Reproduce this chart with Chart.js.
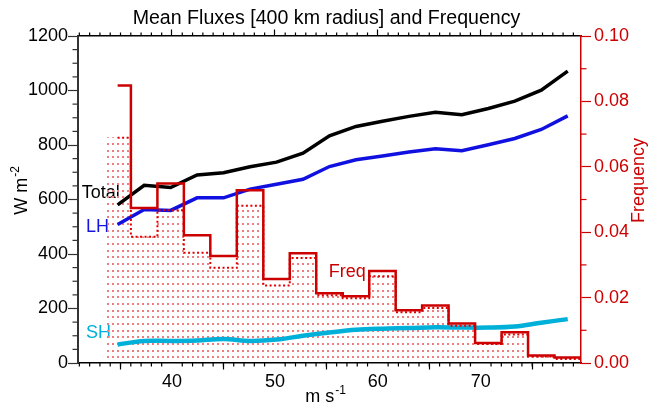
<!DOCTYPE html>
<html>
<head>
<meta charset="utf-8">
<script src="https://cdn.jsdelivr.net/npm/chart.js@4.4.0/dist/chart.umd.min.js"></script>
<style>
  html, body { margin: 0; padding: 0; background: #fff; }
</style>
</head>
<body>
<canvas id="myChart" width="653" height="404"></canvas>
<script>
// wind speed bins (m/s), 5 kt wide; the last one sits past the axis edge
const windSpeed = [34.72, 37.30, 39.87, 42.44, 45.01, 47.59, 50.16, 52.73, 55.30, 57.88, 60.45, 63.02, 65.59, 68.16, 70.74, 73.31, 75.88, 78.45, 81.02];
// mean fluxes, W m-2
const totalFlux = [580, 652, 644, 690, 698, 720, 737, 770, 834, 868, 887, 905, 920, 911, 934, 961, 1001, 1071];
const lhFlux = [508, 563, 560, 606, 606, 638, 656, 674, 721, 746, 760, 774, 786, 779, 801, 824, 857, 907];
const shFlux = [68, 81, 81, 83, 88, 81, 86, 100, 112, 122, 126, 128, 131, 130, 130, 134, 148, 161];
// frequency (solid) and frequency of the full sample (dotted / stippled)
const freq = [0.0849, 0.0474, 0.0549, 0.0391, 0.0327, 0.0528, 0.0257, 0.0336, 0.0213, 0.0204, 0.0281, 0.0161, 0.0176, 0.0121, 0.0061, 0.0094, 0.0023, 0.0017, 0.0017];
const freqAll = [0.0689, 0.0386, 0.0467, 0.0337, 0.0291, 0.0481, 0.0237, 0.0321, 0.0207, 0.0198, 0.0265, 0.0155, 0.0168, 0.0114, 0.0058, 0.0087, 0.0020, 0.0012, 0.0012];
// ticks
const xTicks = [40, 50, 60, 70];
const fluxTicks = [0, 200, 400, 600, 800, 1000, 1200];
const freqTicks = [0, 0.02, 0.04, 0.06, 0.08, 0.10];

const FONT = '"Liberation Sans", Arial, Helvetica, sans-serif';
const RED = '#cc0000';

function stipple() { // dot pattern for the histogram fill
  const c = document.createElement('canvas');
  c.width = 5; c.height = 20;
  const g = c.getContext('2d');
  g.fillStyle = 'rgb(240,125,125)';
  [0, 7, 13].forEach(r => g.fillRect(0, r, 2, 2));
  const p = g.createPattern(c, 'repeat');
  p.setTransform(new DOMMatrix().translate(2, 3));
  return p;
}

const pts = (xs, ys) => ys.map((v, i) => ({x: xs[i], y: v}));

// minor tick marks, all outside the frame
const minorTicks = {
  id: 'minorTicks',
  afterDraw(chart) {
    const {ctx, chartArea: a, scales} = chart;
    const line = (x1, y1, x2, y2) => { ctx.beginPath(); ctx.moveTo(x1, y1); ctx.lineTo(x2, y2); ctx.stroke(); };
    ctx.save();
    ctx.lineWidth = 1.2;
    ctx.strokeStyle = '#000';
    const xs = scales.x;
    for (let v = Math.ceil(xs.min); v <= xs.max; v++) {
      if (v % 10 === 0) continue;
      const px = xs.getPixelForValue(v);
      line(px, a.bottom, px, a.bottom + 3.5);
      line(px, a.top, px, a.top - 3.5);
    }
    ctx.strokeStyle = '#333';
    for (let v = 50; v < 1200; v += 50) {
      if (v % 200 === 0) continue;
      const py = scales.y.getPixelForValue(v);
      line(a.left, py, a.left - 5.5, py);
    }
    ctx.strokeStyle = RED;
    for (let k = 1; k < 10; k += 2) {
      const py = scales.y1.getPixelForValue(k / 100);
      line(a.right, py, a.right + 5.5, py);
    }
    ctx.restore();
  }
};

// axis titles and curve labels
const notes = {
  id: 'notes',
  beforeDatasetsDraw(chart) {
    const {ctx, scales: {x, y, y1}} = chart;
    ctx.save();
    ctx.font = '18px ' + FONT;
    ctx.textBaseline = 'alphabetic';
    ctx.textAlign = 'left';
    ctx.fillStyle = '#000';
    ctx.fillText('Total', x.getPixelForValue(31.23), y.getPixelForValue(605));
    ctx.fillStyle = '#1515dd';
    ctx.fillText('LH', x.getPixelForValue(31.65), y.getPixelForValue(479));
    ctx.fillStyle = '#00b0d8';
    ctx.fillText('SH', x.getPixelForValue(31.65), y.getPixelForValue(91));
    ctx.fillStyle = RED;
    ctx.fillText('Freq', x.getPixelForValue(55.24), y1.getPixelForValue(0.0263));
    ctx.restore();
  },
  afterDraw(chart) {
    const {ctx, chartArea: a} = chart;
    const sup = (main, exp, color) => {
      ctx.fillStyle = color;
      ctx.font = '18px ' + FONT;
      const w1 = ctx.measureText(main).width;
      ctx.font = '12px ' + FONT;
      const w2 = ctx.measureText(exp).width;
      const start = -(w1 + w2 + 1) / 2;
      ctx.font = '18px ' + FONT;
      ctx.fillText(main, start, 0);
      ctx.font = '12px ' + FONT;
      ctx.fillText(exp, start + w1 + 1, -8);
    };
    ctx.save();
    ctx.textBaseline = 'alphabetic';
    ctx.textAlign = 'left';
    // left
    ctx.save();
    ctx.translate(26.5, (a.top + a.bottom) / 2 - 9);
    ctx.rotate(-Math.PI / 2);
    sup('W m', '-2', '#000');
    ctx.restore();
    // bottom
    ctx.save();
    ctx.translate((a.left + a.right) / 2 - 4, 402);
    sup('m s', '-1', '#000');
    ctx.restore();
    // right
    ctx.save();
    ctx.translate(644, (a.top + a.bottom) / 2 - 19);
    ctx.rotate(-Math.PI / 2);
    ctx.fillStyle = RED;
    ctx.font = '18px ' + FONT;
    ctx.textAlign = 'center';
    ctx.fillText('Frequency', 0, 0);
    ctx.restore();
    ctx.restore();
  }
};

const tickFont = {family: FONT, size: 18};
const setTicks = list => scale => { scale.ticks = list.map(v => ({value: v})); };

const chart = new Chart(document.getElementById('myChart'), {
  data: {
    datasets: [
      { type: 'line', label: 'Freq', yAxisID: 'y1', data: pts(windSpeed, freq), stepped: 'middle',
        borderColor: RED, borderWidth: 2.5, pointRadius: 0, fill: false },
      { type: 'line', label: 'Freq (all)', yAxisID: 'y1', data: pts(windSpeed, freqAll), stepped: 'middle',
        borderColor: '#e00000', borderWidth: 2, borderDash: [2, 2.5], pointRadius: 0, fill: false },
      { type: 'line', label: 'Total', yAxisID: 'y', data: pts(windSpeed, totalFlux),
        borderColor: '#000', borderWidth: 3.5, pointRadius: 0, fill: false },
      { type: 'line', label: 'LH', yAxisID: 'y', data: pts(windSpeed, lhFlux),
        borderColor: '#1010e0', borderWidth: 3.5, pointRadius: 0, fill: false },
      { type: 'line', label: 'SH', yAxisID: 'y', data: pts(windSpeed, shFlux),
        borderColor: '#00b0d8', borderWidth: 4.5, pointRadius: 0, fill: false, tension: 0.35 },
      { type: 'bar', label: 'fill', yAxisID: 'y1', data: pts(windSpeed, freqAll),
        backgroundColor: stipple(), borderWidth: 0, barPercentage: 1, categoryPercentage: 1 }
    ]
  },
  options: {
    responsive: false,
    animation: false,
    layout: {padding: 0},
    plugins: {
      legend: {display: false},
      tooltip: {enabled: false},
      title: {
        display: true,
        text: 'Mean Fluxes [400 km radius] and Frequency',
        color: '#000',
        font: {family: FONT, size: 19.6, weight: 'normal', lineHeight: 1.2},
        padding: {top: 7, bottom: 0}
      }
    },
    scales: {
      x: {
        type: 'linear', position: 'bottom', min: 30.87, max: 79.74, offset: false,
        afterBuildTicks: setTicks(xTicks),
        afterFit: s => { s.height = 41; },
        ticks: {color: '#000', font: tickFont, padding: 2, maxRotation: 0, autoSkip: false, callback: v => String(v)},
        grid: {drawOnChartArea: false, tickLength: 6.5, color: '#000', tickWidth: 1.2},
        border: {color: '#000', width: 1.5}
      },
      xTop: {
        type: 'linear', position: 'top', min: 30.87, max: 79.74, offset: false,
        afterBuildTicks: setTicks(xTicks),
        afterFit: s => { s.height = 36 - 30.52; },
        ticks: {display: false},
        grid: {drawOnChartArea: false, tickLength: 6.5, color: '#000', tickWidth: 1.2},
        border: {color: '#000', width: 1.5}
      },
      y: {
        type: 'linear', position: 'left', min: 0, max: 1200,
        afterBuildTicks: setTicks(fluxTicks),
        afterFit: s => { s.width = 78; },
        ticks: {color: '#000', font: tickFont, padding: 0, callback: v => String(v)},
        grid: {drawOnChartArea: false, tickLength: 10, color: '#333', tickWidth: 1.2},
        border: {color: '#333', width: 2}
      },
      y1: {
        type: 'linear', position: 'right', min: 0, max: 0.1,
        afterBuildTicks: setTicks(freqTicks),
        afterFit: s => { s.width = 72; },
        ticks: {color: RED, font: tickFont, padding: 3, callback: v => v.toFixed(2)},
        grid: {drawOnChartArea: false, tickLength: 10, color: RED, tickWidth: 1.2},
        border: {color: RED, width: 1.5}
      }
    }
  },
  plugins: [minorTicks, notes]
});
</script>
</body>
</html>
